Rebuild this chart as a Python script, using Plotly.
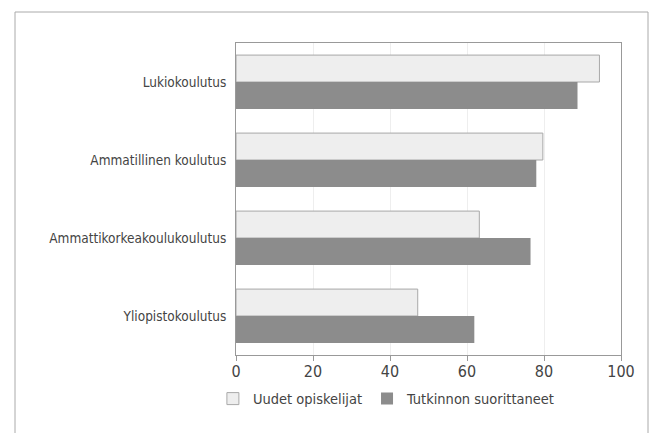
import plotly.graph_objects as go

categories = ["Lukiokoulutus", "Ammatillinen koulutus", "Ammattikorkeakoulukoulutus", "Yliopistokoulutus"]
uudet = [94.4, 79.7, 63.2, 47.2]
tutkinnon = [88.7, 78.0, 76.5, 61.9]
series_names = ["Uudet opiskelijat", "Tutkinnon suorittaneet"]
x_ticks = [0, 20, 40, 60, 80, 100]

FONT = "Liberation Sans Narrow, DejaVu Sans Condensed, Arial Narrow, sans-serif"

fig = go.Figure()
fig.add_trace(go.Bar(
    y=categories, x=uudet, name=series_names[0], orientation="h",
    marker=dict(color="#eeeeee", line=dict(color="#a8a8a8", width=1)),
))
fig.add_trace(go.Bar(
    y=categories, x=tutkinnon, name=series_names[1], orientation="h",
    marker=dict(color="#8c8c8c", line=dict(color="#8c8c8c", width=0)),
))

fig.update_layout(
    width=652, height=433,
    margin=dict(l=236, r=31, t=43, b=78),
    paper_bgcolor="white", plot_bgcolor="white",
    barmode="group", bargap=0.31, bargroupgap=0,
    font=dict(family=FONT, size=13.5, color="#444444"),
    showlegend=True,
    legend=dict(orientation="h", x=-0.06, xanchor="left", y=-0.14, yanchor="middle",
                font=dict(family=FONT, size=14.5, color="#444444"),
                itemwidth=30, tracegroupgap=0, bgcolor="rgba(0,0,0,0)"),
    xaxis=dict(range=[0, 100], tickvals=x_ticks, showgrid=True, gridcolor="#eeeeee", gridwidth=1,
               showline=True, linecolor="#999999", linewidth=1, mirror=True,
               ticks="outside", ticklen=5, tickcolor="#999999", zeroline=False,
               tickfont=dict(size=16), ticklabelstandoff=-3),
    yaxis=dict(autorange="reversed", showline=True, linecolor="#999999", linewidth=1, mirror=True,
               ticks="", ticklabelstandoff=6, showgrid=False),
    shapes=[dict(type="rect", xref="paper", yref="paper",
                 x0=(15 - 236) / 385, x1=(648 - 236) / 385,
                 y0=-0.5, y1=(355 - 12) / 312,
                 line=dict(color="#aaaaaa", width=1), fillcolor="rgba(0,0,0,0)", layer="below")],
)

fig.write_html("out.html", config={"displayModeBar": False},
               post_script="document.body.style.margin='0';document.body.style.padding='0';")
